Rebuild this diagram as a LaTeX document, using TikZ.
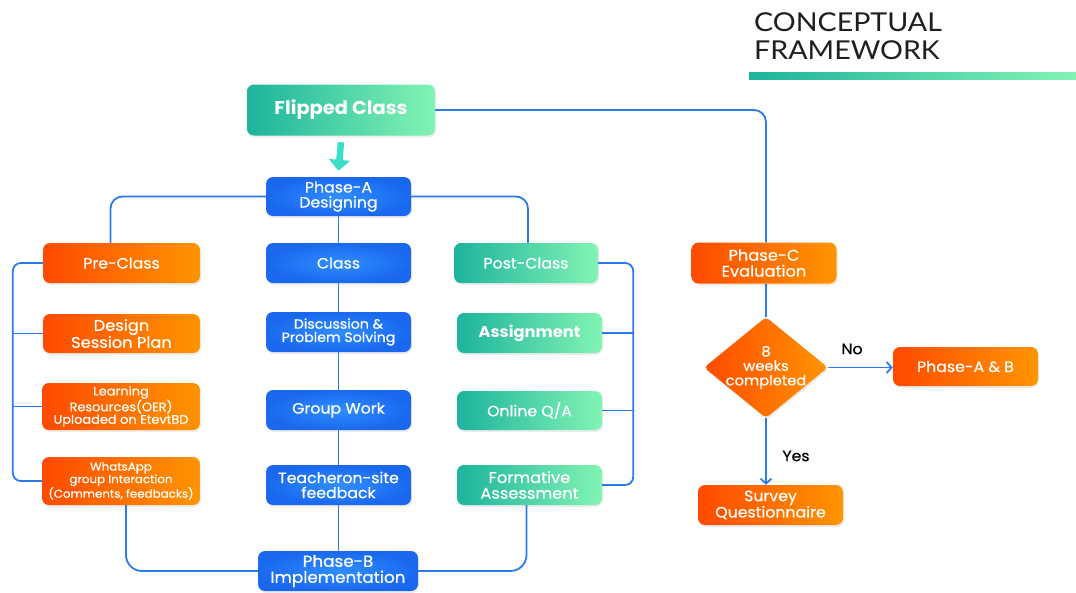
\documentclass[tikz,border=0pt]{standalone}
\usepackage{fontspec}
\setmainfont{Poppins}[FakeStretch=1.05]
\newfontfamily\medfont{Poppins}[FakeStretch=1.05,FakeBold=0.6]
\newfontfamily\titlefont{Lato}[FakeStretch=1.1]
\usetikzlibrary{shapes.geometric,shadows,arrows.meta}
\definecolor{blueL}{HTML}{2F8EFF}
\definecolor{blueD}{HTML}{1A68EE}
\definecolor{orgL}{HTML}{FF4A00}
\definecolor{orgR}{HTML}{FF9500}
\definecolor{tealL}{HTML}{1DB39D}
\definecolor{tealR}{HTML}{82F4B3}
\definecolor{lineblue}{HTML}{2A7AF0}
\definecolor{arrowteal}{HTML}{3CDEC8}
\definecolor{titlegray}{HTML}{1E1E1E}
\begin{document}
\begin{tikzpicture}[x=1pt,y=-1pt,
  box/.style={rounded corners=7pt, text=white, align=center, inner sep=1pt,
    font=\medfont\fontsize{15}{15}\selectfont,
    drop shadow={opacity=0.15,shadow xshift=1pt,shadow yshift=-2pt}},
  obox/.style={box, left color=orgL, right color=orgR},
  tbox/.style={box, left color=tealL, right color=tealR},
  bbox/.style={box, inner color=blueL, outer color=blueD},
  conn/.style={draw=lineblue, line width=1.8pt, rounded corners=12pt},
  arr/.style={conn, -{Straight Barb[length=5pt,width=11pt,line width=1.8pt]}},
  lbl/.style={font=\medfont\fontsize{15}{15}\selectfont, text=black}
]
\useasboundingbox (0,0) rectangle (1076,592);

% title
\node[anchor=north west, align=left, inner sep=0pt, text=titlegray,
  font=\titlefont\fontsize{26}{28}\selectfont] (title) at (754,12) {CONCEPTUAL\\FRAMEWORK};
\shade[left color=tealL, right color=tealR] (749,72) rectangle (1076,79);

% nodes
\node[tbox, minimum width=188pt, minimum height=51pt, font=\bfseries\fontsize{18.5}{20}\selectfont] (fc) at (341,110) {Flipped Class};
\node[bbox, minimum width=145pt, minimum height=39pt] (phA) at (338.5,196.5) {Phase-A\\Designing};

\node[obox, minimum width=157pt, minimum height=40pt] (pre) at (121.5,263) {Pre-Class};
\node[obox, minimum width=157pt, minimum height=39pt, font=\medfont\fontsize{15.5}{15}\selectfont] (dsp) at (121.5,333.5) {Design\\Session Plan};
\node[obox, minimum width=158pt, minimum height=47pt, font=\medfont\fontsize{12.3}{12.5}\selectfont] (lr) at (121,406.5) {Learning\\Resources(OER)\\Uploaded on EtevtBD};
\node[obox, minimum width=158pt, minimum height=48pt, font=\medfont\fontsize{11.3}{11.2}\selectfont] (wa) at (121,481) {WhatsApp\\group Interaction\\(Comments, feedbacks)};

\node[bbox, minimum width=145pt, minimum height=40pt] (cls) at (338.5,263) {Class};
\node[bbox, minimum width=145pt, minimum height=40pt, font=\medfont\fontsize{13.5}{13.3}\selectfont] (disc) at (338.5,332) {Discussion \&\\Problem Solving};
\node[bbox, minimum width=145pt, minimum height=40pt] (gw) at (338.5,410) {Group Work};
\node[bbox, minimum width=145pt, minimum height=40pt] (tf) at (338.5,485) {Teacheron-site\\feedback};
\node[bbox, minimum width=160pt, minimum height=40pt, font=\medfont\fontsize{16}{16}\selectfont] (phB) at (338,571) {Phase-B\\Implementation};

\node[tbox, minimum width=144pt, minimum height=40pt] (post) at (526,263) {Post-Class};
\node[tbox, minimum width=145pt, minimum height=40pt, font=\bfseries\fontsize{15.5}{15}\selectfont] (asg) at (529.5,333) {Assignment};
\node[tbox, minimum width=145pt, minimum height=39pt] (oqa) at (529.5,410.5) {Online Q/A};
\node[tbox, minimum width=145pt, minimum height=40pt, font=\medfont\fontsize{15.5}{15.7}\selectfont] (fa) at (529.5,485) {Formative\\Assessment};

\node[obox, minimum width=145pt, minimum height=41pt, font=\medfont\fontsize{15.5}{16}\selectfont] (phC) at (764,263) {Phase-C\\Evaluation};
\node[diamond, minimum width=124pt, minimum height=101pt, inner sep=0pt, rounded corners=4pt,
  left color=orgL, right color=orgR,
  drop shadow={opacity=0.15,shadow xshift=1pt,shadow yshift=-2pt}] (dia) at (766,367.5) {};
\node[text=white, align=center, inner sep=0pt, font=\medfont\fontsize{14}{14.5}\selectfont] (diat) at (dia.center) {8\\weeks\\completed};
\node[obox, minimum width=145pt, minimum height=39pt] (pab) at (965.5,366.5) {Phase-A \& B};
\node[obox, minimum width=145pt, minimum height=40pt] (sq) at (770.5,505) {Survey\\Questionnaire};

\node[lbl] (no) at (852,349) {No};
\node[lbl] (yes) at (796,456) {Yes};

% teal block arrow
\draw[arrowteal, line width=6.5pt, -{Triangle[length=11pt,width=21pt]}] ([yshift=-6.5pt]fc.south) -- ([yshift=6pt]phA.north);

% connectors
\draw[conn] (fc.east) -| (phC.north -| dia.north);
\draw[conn] (phA.west) -| ([xshift=-11pt]pre.north);
\draw[conn] (phA.east) -| ([xshift=2pt]post.north);
\draw[conn] (phA.south) -- (cls.north);
\draw[conn] (cls.south) -- (disc.north);
\draw[conn] (disc.south) -- (gw.north);
\draw[conn] (gw.south) -- (tf.north);
\draw[conn] (tf.south) -- (phB.north -| tf.south);

\draw[conn, rounded corners=8pt] (pre.west) -| ([xshift=-29pt]wa.west) -- (wa.west);
\draw[conn] (dsp.west) -- ([xshift=-30pt]dsp.west);
\draw[conn] (lr.west) -- ([xshift=-29pt]lr.west);

\draw[conn, rounded corners=8pt] (post.east) -| ([xshift=31pt]fa.east) -- (fa.east);
\draw[conn] (asg.east) -- ([xshift=31pt]asg.east);
\draw[conn] (oqa.east) -- ([xshift=31pt]oqa.east);

\draw[conn, rounded corners=16pt] ([xshift=5pt]wa.south) |- (phB.west);
\draw[conn, rounded corners=16pt] ([xshift=-3pt]fa.south) |- (phB.east);

\draw[conn] (phC.south -| dia.north) -- (dia.north);
\draw[arr] (dia.east) -- (dia.east -| pab.west);
\draw[arr] (dia.south) -- (dia.south |- sq.north);
\end{tikzpicture}
\end{document}
